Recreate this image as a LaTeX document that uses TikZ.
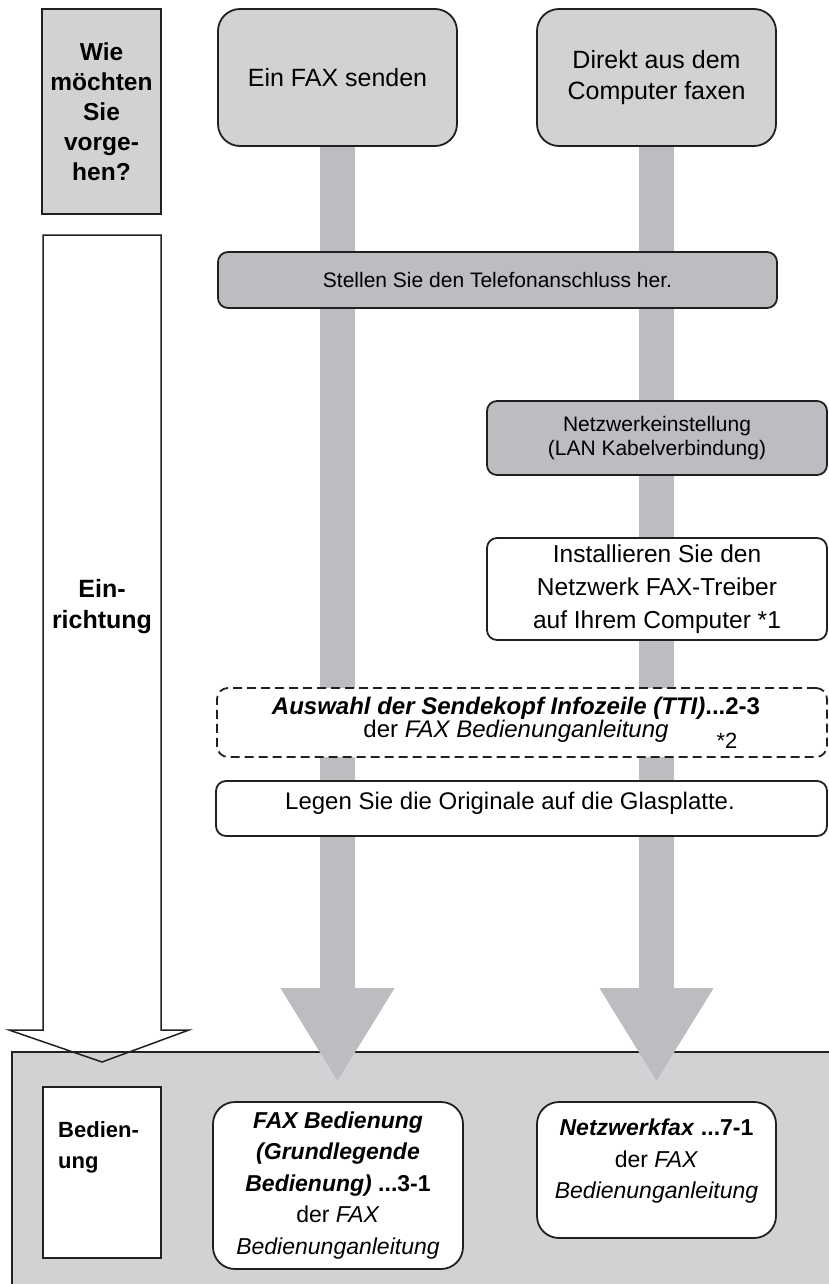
\documentclass[tikz,border=0pt]{standalone}
\usepackage{fontspec}
\setmainfont{Liberation Sans}
\usetikzlibrary{arrows.meta,backgrounds}

\definecolor{Panel}{RGB}{209,210,212}
\definecolor{Lane}{RGB}{188,189,192}
\definecolor{Ink}{RGB}{35,31,32}

\newcommand{\txt}[2]{\fontsize{#1}{#2}\selectfont} % Parameters: size, line skip
\newcommand{\manref}[2]{\textbf{\textit{#1}}\textbf{#2}} % Parameters: title, page

\tikzset{
  framed/.style={draw=Ink,line width=1.8pt,inner sep=0pt,align=center},
  askbox/.style={framed,fill=Panel,font=\txt{24.5}{30}\bfseries},
  startbox/.style={framed,fill=Panel,rounded corners=22pt,minimum width=239pt,minimum height=137pt,font=\txt{25}{31}},
  setupbox/.style={framed,fill=Lane,rounded corners=10pt,font=\txt{21}{24}},
  stepbox/.style={framed,fill=white,rounded corners=10pt,font=\txt{24}{33}},
  optionbox/.style={framed,fill=white,rounded corners=11pt,dash pattern=on 9pt off 5pt},
  manualbox/.style={framed,fill=white,rounded corners=22pt,font=\txt{23}{31.5}},
  lane/.style={draw=Lane,line width=35pt,-{Triangle[width=107pt,length=94pt]},shorten >=19pt},
  hollow/.style={draw=Ink,line width=1.5pt},
}

\begin{document}
\begin{tikzpicture}[x=1pt,y=-1pt]
  \useasboundingbox (0,0) rectangle (828,1284);

  % top row
  \node[askbox,minimum width=119pt,minimum height=205pt] (ask) at (101.5,111.5)
    {Wie\\möchten\\Sie\\vorge-\\hen?};
  \node[startbox] (fax) at (337.5,77.5) {Ein FAX senden};
  \node[startbox] (pc) at (656.5,77.5) {Direkt aus dem\\Computer faxen};

  % setup steps
  \node[setupbox,minimum width=559pt,minimum height=56pt] (phone) at (497.5,280)
    {Stellen Sie den Telefonanschluss her.};
  \node[setupbox,minimum width=340pt,minimum height=74pt] (lan) at (657,438)
    {Netzwerkeinstellung\\(LAN Kabelverbindung)};
  \node[stepbox,minimum width=340pt,minimum height=102pt,font=\txt{24.5}{33}] (driver) at (657,589)
    {Installieren Sie den\\Netzwerk FAX-Treiber\\auf Ihrem Computer *1};
  \node[optionbox,minimum width=610pt,minimum height=69pt] (tti) at (522,722.5) {};
  \node[font=\txt{24}{21},align=center] (ttitext) at (516,720)
    {\manref{Auswahl der Sendekopf Infozeile (TTI)}{...2-3}\\der \textit{FAX Bedienunganleitung}};
  \node[font=\txt{22}{22}] (star) at (727,741) {*2};
  \node[stepbox,minimum width=611pt,minimum height=55pt] (glass) at (521.5,808.5) {};
  \node[font=\txt{24}{33}] (glasstext) at (510,803) {Legen Sie die Originale auf die Glasplatte.};

  % side label of the setup arrow
  \node[font=\txt{25}{31}\bfseries,align=center] (setup) at (102,606.5) {Ein-\\richtung};

  % operation row
  \node[framed,fill=white,minimum width=118pt,minimum height=171pt] (op) at (102,1172.5) {};
  \node[font=\txt{22}{31}\bfseries,align=left,anchor=west,inner sep=0pt] (optext) at (58,1147.5) {Bedien-\\ung};
  \node[manualbox,minimum width=250pt,minimum height=167pt] (fxop) at (338,1185.5)
    {\textbf{\textit{FAX Bedienung}}\\\textbf{\textit{(Grundlegende}}\\\manref{Bedienung)}{ ...3-1}\\der \textit{FAX}\\\textit{Bedienunganleitung}};
  \node[manualbox,minimum width=239pt,minimum height=136pt] (nfax) at (656.5,1170) {};
  \node[font=\txt{23}{31.5},align=center] (nfaxtext) at (656.5,1161.5)
    {\manref{Netzwerkfax}{ ...7-1}\\der \textit{FAX}\\\textit{Bedienunganleitung}};

  \begin{pgfonlayer}{background}
    % hollow arrow of the left column
    \fill[white] (43,235) -- (161,235) -- (161,1030) -- (189,1030) -- (102,1062) -- (9,1030) -- (43,1030) -- cycle;
    \draw[Ink,line width=1.8pt,fill=Panel] (12,1052) rectangle (860,1310);
    \draw[hollow] (43,235) -- (161,235) -- (161,1030) -- (189,1030) -- (102,1062) -- (9,1030) -- (43,1030) -- cycle;
    % lanes
    \draw[lane] (fax.south) -- (fax.south |- fxop.north);
    \draw[lane] (pc.south) -- (pc.south |- nfax.north);
  \end{pgfonlayer}
\end{tikzpicture}
\end{document}
